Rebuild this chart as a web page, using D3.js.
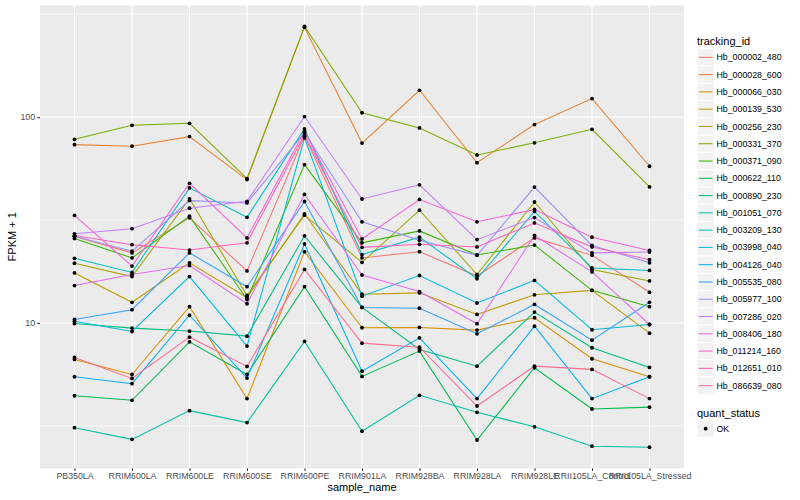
<!DOCTYPE html>
<html>
<head>
<meta charset="utf-8">
<script src="https://cdn.jsdelivr.net/npm/d3@7"></script>
<style>
    body { margin: 0; background: #ffffff; }
    text { font-family: "Liberation Sans", Arial, Helvetica, sans-serif; }
</style>
</head>
<body>
<div id="chart-area"></div>
<script>
'use strict';

const sampleNames = ['PB350LA', 'RRIM600LA', 'RRIM600LE', 'RRIM600SE', 'RRIM600PE',
    'RRIM901LA', 'RRIM928BA', 'RRIM928LA', 'RRIM928LE', 'RRII105LA_Control', 'RRII105LA_Stressed'];

const trackingIds = ['Hb_000002_480', 'Hb_000028_600', 'Hb_000066_030', 'Hb_000139_530',
    'Hb_000256_230', 'Hb_000331_370', 'Hb_000371_090', 'Hb_000622_110', 'Hb_000890_230',
    'Hb_001051_070', 'Hb_003209_130', 'Hb_003998_040', 'Hb_004126_040', 'Hb_005535_080',
    'Hb_005977_100', 'Hb_007286_020', 'Hb_008406_180', 'Hb_011214_160', 'Hb_012651_010',
    'Hb_086639_080'];

// FPKM + 1, one value per sample
const hb_000002_480 = [26.3, 21.9, 32.4, 17.9, 80.7, 20.7, 22.2, 16.9, 25.9, 21.3, 14.1];
const hb_000028_600 = [73.5, 72.2, 80.4, 49.7, 273, 74.8, 135, 60.1, 92, 123, 57.7];
const hb_000066_030 = [6.65, 5.62, 12.0, 4.29, 22.2, 9.48, 9.51, 9.23, 10.6, 6.70, 5.48];
const hb_000139_530 = [17.5, 12.6, 19.6, 13.3, 33.9, 13.8, 14.0, 11.0, 13.7, 14.4, 8.92];
const hb_000256_230 = [19.5, 16.8, 40.1, 13.6, 33.4, 19.7, 35.3, 17.2, 38.7, 18.2, 16.0];
const hb_000331_370 = [78, 91.2, 93.3, 50.3, 276, 105, 88.6, 65.5, 75, 87.2, 45.8];
const hb_000371_090 = [25.7, 20.7, 33.0, 13.0, 58.8, 24.5, 28.0, 21.4, 23.9, 14.4, 12.0];
const hb_000622_110 = [4.43, 4.21, 8.10, 5.62, 15.0, 5.50, 7.30, 2.70, 6.06, 3.82, 3.90];
const hb_000890_230 = [9.94, 9.44, 9.13, 8.63, 26.5, 11.9, 7.44, 6.17, 11.3, 7.58, 6.08];
const hb_001051_070 = [3.10, 2.72, 3.75, 3.28, 8.13, 2.98, 4.45, 3.68, 3.13, 2.52, 2.49];
const hb_003209_130 = [20.6, 17.6, 45.3, 32.6, 87.6, 21.5, 26.1, 16.4, 34.8, 18.5, 18.0];
const hb_003998_040 = [10.2, 9.09, 16.8, 7.72, 79.3, 13.5, 17.0, 12.5, 16.1, 9.27, 9.83];
const hb_004126_040 = [5.48, 5.07, 10.9, 5.40, 24.2, 5.83, 8.47, 4.29, 9.65, 4.29, 5.48];
const hb_005535_080 = [10.4, 11.6, 21.9, 15.0, 38.9, 11.9, 11.8, 8.86, 12.3, 8.25, 12.6];
const hb_005977_100 = [26.4, 22.3, 39.3, 38.3, 84.1, 31.0, 25.2, 21.3, 45.7, 23.8, 19.6];
const hb_007286_020 = [27.1, 28.7, 36.1, 39.0, 100.6, 40.0, 46.9, 25.4, 32.5, 21.9, 22.1];
const hb_008406_180 = [15.2, 17.2, 19.0, 12.4, 42.1, 17.1, 14.2, 9.92, 26.6, 17.7, 9.83];
const hb_011214_160 = [33.3, 18.9, 47.7, 25.9, 85.3, 25.6, 39.8, 31.0, 35.6, 26.1, 22.5];
const hb_012651_010 = [26.6, 24.0, 22.6, 24.5, 82.2, 23.3, 24.1, 23.4, 30.6, 23.4, 20.3];
const hb_086639_080 = [6.80, 5.38, 8.53, 6.15, 18.2, 7.98, 7.63, 3.95, 6.17, 5.95, 4.29];

const fpkmRows = [hb_000002_480, hb_000028_600, hb_000066_030, hb_000139_530, hb_000256_230,
    hb_000331_370, hb_000371_090, hb_000622_110, hb_000890_230, hb_001051_070, hb_003209_130,
    hb_003998_040, hb_004126_040, hb_005535_080, hb_005977_100, hb_007286_020, hb_008406_180,
    hb_011214_160, hb_012651_010, hb_086639_080];

const quantStatus = ['OK'];
const yTicks = [10, 100];

// ggplot default hue palette for 20 levels
const colours = ['#F8766D', '#EA8331', '#D89000', '#C09B00', '#A3A500', '#7CAE00', '#39B600',
    '#00BB4E', '#00BF7D', '#00C1A3', '#00BFC4', '#00BAE0', '#00B0F6', '#35A2FF', '#9590FF',
    '#C77CFF', '#E76BF3', '#FA62DB', '#FF62BC', '#FF6C90'];

let margin = {
    left: 40,
    right: 116,
    top: 5.3,
    bottom: 31.7,
};

draw();

function draw() {
    let w = 800;
    let h = 500;
    let pw = w - margin.left - margin.right;
    let ph = h - margin.top - margin.bottom;

    let svg = d3.select('#chart-area').append('svg')
        .attr('width', w)
        .attr('height', h);

    let g = svg.append('g')
        .attr('transform', 'translate(' + margin.left + ',' + margin.top + ')');

    g.append('rect')
        .attr('width', pw)
        .attr('height', ph)
        .attr('fill', '#EBEBEB');

    let all = fpkmRows.flat();
    let lo = Math.log10(d3.min(all));
    let hi = Math.log10(d3.max(all));
    let pad = (hi - lo) * 0.05;

    let y = d3.scaleLog()
        .domain([Math.pow(10, lo - pad), Math.pow(10, hi + pad)])
        .range([ph, 0]);

    let x = d3.scalePoint()
        .domain(sampleNames)
        .range([0, pw])
        .padding(0.6);

    let colour = d3.scaleOrdinal()
        .domain(trackingIds)
        .range(colours);

    // grid lines
    let minor = [Math.pow(10, 0.5), Math.pow(10, 1.5), Math.pow(10, 2.5)];
    g.selectAll('.minor')
        .data(minor)
        .enter().append('line')
            .attr('x1', 0).attr('x2', pw)
            .attr('y1', d => y(d)).attr('y2', d => y(d))
            .attr('stroke', '#ffffff')
            .attr('stroke-width', 0.55);

    g.selectAll('.major-y')
        .data(yTicks)
        .enter().append('line')
            .attr('x1', 0).attr('x2', pw)
            .attr('y1', d => y(d)).attr('y2', d => y(d))
            .attr('stroke', '#ffffff')
            .attr('stroke-width', 1.1);

    g.selectAll('.major-x')
        .data(sampleNames)
        .enter().append('line')
            .attr('x1', d => x(d)).attr('x2', d => x(d))
            .attr('y1', 0).attr('y2', ph)
            .attr('stroke', '#ffffff')
            .attr('stroke-width', 1.1);

    let line = d3.line()
        .x((d, i) => x(sampleNames[i]))
        .y(d => y(d));

    g.selectAll('.series')
        .data(fpkmRows)
        .enter().append('path')
            .attr('d', line)
            .attr('fill', 'none')
            .attr('stroke', (d, i) => colour(trackingIds[i]))
            .attr('stroke-width', 1.05);

    fpkmRows.forEach((row) => {
        g.selectAll(null)
            .data(row)
            .enter().append('circle')
                .attr('cx', (d, i) => x(sampleNames[i]))
                .attr('cy', d => y(d))
                .attr('r', 1.9)
                .attr('fill', '#000000');
    });

    // axes
    let yAxis = d3.axisLeft(y)
        .tickValues(yTicks)
        .tickFormat(d3.format('d'))
        .tickSize(2.75)
        .tickPadding(2.2);

    let ya = g.append('g')
        .attr('class', 'y_axis')
        .call(yAxis);

    let xAxis = d3.axisBottom(x)
        .tickSize(2.75)
        .tickPadding(2.2);

    let xa = g.append('g')
        .attr('class', 'x_axis')
        .attr('transform', 'translate(0,' + ph + ')')
        .call(xAxis);

    [ya, xa].forEach((a) => {
        a.select('.domain').remove();
        a.attr('font-family', '"Liberation Sans", Arial, sans-serif')
            .attr('font-size', 8.8);
        a.selectAll('.tick line').attr('stroke', '#333333').attr('stroke-width', 1.05);
        a.selectAll('.tick text').attr('fill', '#4D4D4D');
    });

    svg.append('text')
        .attr('x', margin.left + pw / 2)
        .attr('y', 491)
        .attr('font-size', '11px')
        .attr('text-anchor', 'middle')
        .text('sample_name');

    svg.append('text')
        .attr('transform', 'translate(16,' + (margin.top + ph / 2) + ') rotate(-90)')
        .attr('font-size', '11px')
        .attr('text-anchor', 'middle')
        .text('FPKM + 1');

    // legends
    let keySize = 17.28;
    let lx = 697;

    svg.append('text')
        .attr('x', lx)
        .attr('y', 44.5)
        .attr('font-size', '11px')
        .text('tracking_id');

    let keys = svg.append('g')
        .attr('transform', 'translate(' + lx + ',48.7)');

    let item = keys.selectAll('.key')
        .data(trackingIds)
        .enter().append('g')
            .attr('transform', (d, i) => 'translate(0,' + (i * keySize) + ')');

    item.append('rect')
        .attr('width', keySize)
        .attr('height', keySize)
        .attr('fill', '#F2F2F2')
        .attr('stroke', '#ffffff')
        .attr('stroke-width', 1);

    item.append('line')
        .attr('x1', 1.7).attr('x2', keySize - 1.7)
        .attr('y1', keySize / 2).attr('y2', keySize / 2)
        .attr('stroke', d => colour(d))
        .attr('stroke-width', 1.05);

    item.append('text')
        .attr('x', keySize + 2.2)
        .attr('y', keySize / 2)
        .attr('dy', '0.35em')
        .attr('font-size', '8.8px')
        .text(d => d);

    svg.append('text')
        .attr('x', lx)
        .attr('y', 416.5)
        .attr('font-size', '11px')
        .text('quant_status');

    let qk = svg.append('g')
        .attr('transform', 'translate(' + lx + ',420)');

    let qItem = qk.selectAll('.qkey')
        .data(quantStatus)
        .enter().append('g')
            .attr('transform', (d, i) => 'translate(0,' + (i * keySize) + ')');

    qItem.append('rect')
        .attr('width', keySize)
        .attr('height', keySize)
        .attr('fill', '#F2F2F2')
        .attr('stroke', '#ffffff')
        .attr('stroke-width', 1);

    qItem.append('circle')
        .attr('cx', keySize / 2)
        .attr('cy', keySize / 2)
        .attr('r', 1.9)
        .attr('fill', '#000000');

    qItem.append('text')
        .attr('x', keySize + 2.2)
        .attr('y', keySize / 2)
        .attr('dy', '0.35em')
        .attr('font-size', '8.8px')
        .text(d => d);
}
</script>
</body>
</html>
